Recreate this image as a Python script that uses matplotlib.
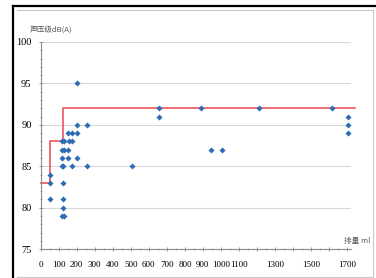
import matplotlib.pyplot as plt
from matplotlib.lines import Line2D
from matplotlib.ticker import MultipleLocator

# displacement (ml) vs sound pressure level dB(A)
disp = [50, 50, 50,
        125, 125, 125, 118, 128,
        118, 126, 176, 256, 506,
        118, 154, 201,
        118, 130, 154,
        118, 130, 158, 176,
        154, 176, 201,
        201, 256,
        200,
        655, 655,
        892, 1210, 1613,
        1705, 1705, 1705,
        947, 1007]
spl = [84, 83, 81,
       83, 81, 80, 79, 79,
       85, 85, 85, 85, 85,
       86, 86, 86,
       87, 87, 87,
       88, 88, 88, 88,
       89, 89, 89,
       90, 90,
       95,
       92, 91,
       92, 92, 92,
       91, 90, 89,
       87, 87]

# red limit line (steps)
limit_x = [0, 50, 125, 1745]
limit_y = [83, 88, 92, 92]

xtick_vals = list(range(0, 1800, 100))
xtick_labels = [str(v) if v <= 1100 or v in (1300, 1500, 1700) else '' for v in xtick_vals]

fig = plt.figure(figsize=(3.76, 2.78), dpi=100)
ax = fig.add_axes([0.108, 0.104, 0.826, 0.745])

ax.plot(limit_x, limit_y, drawstyle='steps-post', color='#E8474C', lw=1.1,
        clip_on=False, zorder=2)
ax.plot(disp, spl, 'D', color='#2E6DB4', markersize=3.1, markeredgewidth=0,
        clip_on=False, zorder=3)

ax.set_xlim(0, 1722)
ax.set_ylim(75, 100)
ax.set_xticks(xtick_vals)
ax.set_xticklabels(xtick_labels)
ax.xaxis.set_minor_locator(MultipleLocator(50))
ax.yaxis.set_major_locator(MultipleLocator(5))
ax.yaxis.set_minor_locator(MultipleLocator(1))

ax.grid(axis='y', color='#D9D9D9', lw=0.8)
ax.set_axisbelow(True)
for s in ['top', 'right']:
    ax.spines[s].set_visible(False)
for s in ['left', 'bottom']:
    ax.spines[s].set_color('#8C8C8C')
    ax.spines[s].set_linewidth(0.8)

ax.tick_params(which='both', direction='inout', color='#8C8C8C', width=0.6)
ax.tick_params(which='major', length=3)
ax.tick_params(which='minor', length=2)
ax.tick_params(axis='x', which='major', pad=7)
ax.tick_params(axis='y', which='major', pad=5)
for lab in ax.get_xticklabels():
    lab.set_fontfamily('Liberation Serif')
    lab.set_fontsize(6.5)
for lab in ax.get_yticklabels():
    lab.set_fontfamily('Liberation Serif')
    lab.set_fontsize(7.5)

fig.text(0.08, 0.895, '声压级dB(A)', fontsize=5.5, color='#595959',
         family=['Noto Sans CJK SC', 'DejaVu Sans'], va='center')
fig.text(0.985, 0.133, '排量 ml', fontsize=5.5, color='#595959',
         family=['Noto Sans CJK SC', 'DejaVu Sans'], va='center', ha='right')

# outer frame of the chart
fig.add_artist(Line2D([0.035, 1.0], [0.979, 0.979], color='black', lw=1.6))
fig.add_artist(Line2D([0.035, 0.035], [0.0, 0.979], color='black', lw=1.6))
fig.add_artist(Line2D([0.045, 0.992], [0.965, 0.965], color='#C8C8C8', lw=0.8))
fig.add_artist(Line2D([0.992, 0.992], [0.004, 0.965], color='#C8C8C8', lw=0.8))
fig.add_artist(Line2D([0.045, 0.992], [0.004, 0.004], color='#C8C8C8', lw=0.8))

fig.savefig('out.png', dpi=100)
